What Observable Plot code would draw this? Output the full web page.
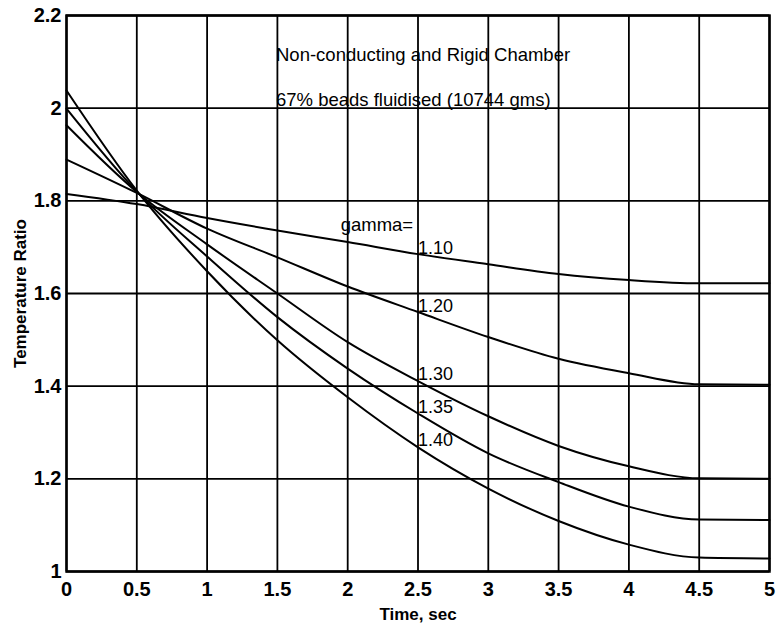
<!DOCTYPE html>
<html><head><meta charset="utf-8">
<script src="https://cdn.jsdelivr.net/npm/d3@7"></script>
<script src="https://cdn.jsdelivr.net/npm/@observablehq/plot@0.6"></script>
<style>body{margin:0;background:#fff}</style>
</head><body><div id="chart"></div>
<script>
const times = [0, 0.5, 1, 1.5, 2, 2.5, 3, 3.5, 4, 4.5, 5];
const gamma110 = [1.815, 1.793, 1.763, 1.736, 1.711, 1.685, 1.663, 1.642, 1.629, 1.622, 1.622];
const gamma120 = [1.889, 1.817, 1.740, 1.678, 1.615, 1.560, 1.506, 1.459, 1.428, 1.404, 1.403];
const gamma130 = [1.963, 1.819, 1.706, 1.600, 1.495, 1.411, 1.335, 1.271, 1.227, 1.201, 1.200];
const gamma135 = [1.999, 1.820, 1.680, 1.549, 1.438, 1.341, 1.255, 1.193, 1.140, 1.112, 1.111];
const gamma140 = [2.038, 1.822, 1.648, 1.499, 1.376, 1.268, 1.179, 1.109, 1.058, 1.030, 1.028];
const gammaNames = ["1.10", "1.20", "1.30", "1.35", "1.40"];
const labelX = [2.5, 2.5, 2.5, 2.5, 2.5];
const labelY = [1.697, 1.572, 1.425, 1.354, 1.283];
const xTicks = [0, 0.5, 1, 1.5, 2, 2.5, 3, 3.5, 4, 4.5, 5];
const yTicks = [1, 1.2, 1.4, 1.6, 1.8, 2, 2.2];
const notes = ["Non-conducting and Rigid Chamber", "67% beads fluidised (10744 gms)", "gamma="];
const noteX = [1.49, 1.49, 1.95];
const noteY = [2.114, 2.017, 1.747];

const series = [gamma110, gamma120, gamma130, gamma135, gamma140];
const rows = [];
series.forEach((s, i) => s.forEach((v, j) => rows.push({gamma: gammaNames[i], t: times[j], r: v})));
const labels = gammaNames.map((g, i) => ({text: g, x: labelX[i], y: labelY[i]}));
const noteRows = notes.map((n, i) => ({text: n, x: noteX[i], y: noteY[i]}));

const font = "'Liberation Sans', Arial, Helvetica, sans-serif";
const chart = Plot.plot({
  width: 779, height: 624,
  marginLeft: 66, marginRight: 10, marginTop: 15, marginBottom: 53,
  style: {fontFamily: font, fontSize: "19px", background: "#fff", color: "#000"},
  x: {domain: [0, 5]},
  y: {domain: [1, 2.2]},
  marks: [
    Plot.gridX(xTicks, {stroke: "#000", strokeOpacity: 1, strokeWidth: 1.8}),
    Plot.gridY(yTicks, {stroke: "#000", strokeOpacity: 1, strokeWidth: 1.8}),
    Plot.frame({stroke: "#000", strokeWidth: 2.5}),
    Plot.axisX(xTicks, {tickSize: 0, tickPadding: 10, fontWeight: "bold", fontSize: 20, tickFormat: d => String(d),
      label: "Time, sec", labelAnchor: "center", labelArrow: "none", labelOffset: 48}),
    Plot.axisY(yTicks, {tickSize: 0, tickPadding: 5, fontWeight: "bold", fontSize: 20, tickFormat: d => String(d),
      label: "Temperature Ratio", labelAnchor: "center", labelArrow: "none", labelOffset: 53}),
    Plot.line(rows, {x: "t", y: "r", z: "gamma", curve: "monotone-x", stroke: "#000", strokeWidth: 2}),
    Plot.text(labels, {x: "x", y: "y", text: "text", textAnchor: "start", fontSize: 18, fill: "#000"}),
    Plot.text(noteRows, {x: "x", y: "y", text: "text", textAnchor: "start", fontSize: 18.5, fill: "#000"})
  ]
});
chart.querySelectorAll("g[aria-label='x-axis label'] text, g[aria-label='y-axis label'] text").forEach(t => {
  t.setAttribute("font-size", "17px");
  t.setAttribute("font-weight", "bold");
});
document.getElementById("chart").appendChild(chart);
</script>
</body></html>
